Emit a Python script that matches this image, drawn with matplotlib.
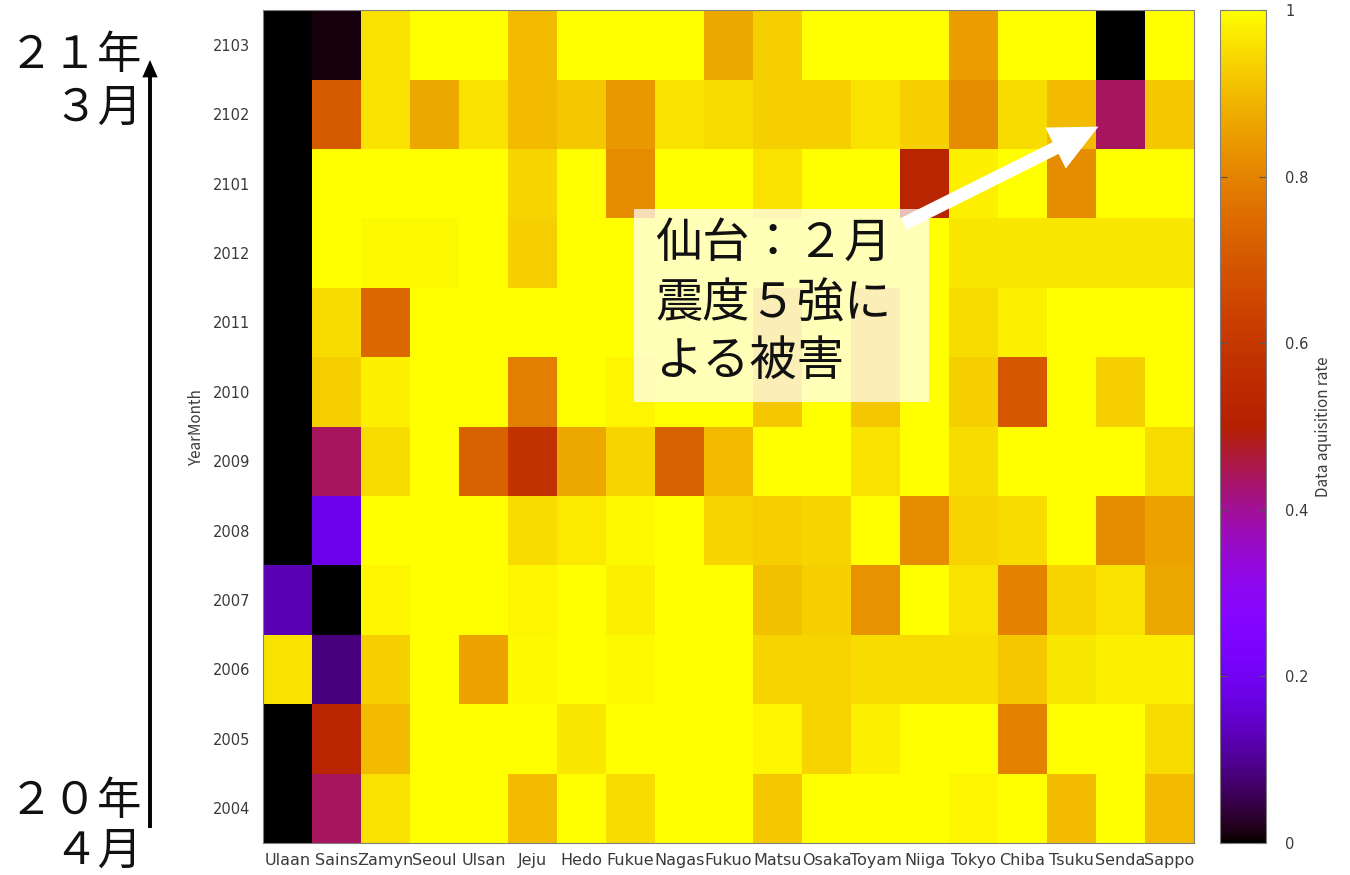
"""Monthly data acquisition rate per station, Apr 2020 - Mar 2021."""

import matplotlib
matplotlib.use("Agg")
import matplotlib.pyplot as plt
import numpy as np
from matplotlib.patches import FancyArrowPatch, Rectangle

# ── data ────────────────────────────────────────────────────────────────────
stations = ["Ulaan", "Sains", "Zamyn", "Seoul", "Ulsan", "Jeju", "Hedo",
            "Fukue", "Nagas", "Fukuo", "Matsu", "Osaka", "Toyam", "Niiga",
            "Tokyo", "Chiba", "Tsuku", "Senda", "Sappo"]
months = ["2004", "2005", "2006", "2007", "2008", "2009",
          "2010", "2011", "2012", "2101", "2102", "2103"]

# one row per month, station order as above
rate_2004 = [0.00, 0.44, 0.96, 1.00, 1.00, 0.90, 1.00, 0.95, 1.00, 1.00,
             0.92, 1.00, 1.00, 1.00, 0.985, 1.00, 0.90, 1.00, 0.90]
rate_2005 = [0.00, 0.53, 0.90, 1.00, 1.00, 1.00, 0.965, 1.00, 1.00, 1.00,
             0.985, 0.94, 0.98, 1.00, 1.00, 0.80, 1.00, 1.00, 0.95]
rate_2006 = [0.96, 0.085, 0.93, 1.00, 0.86, 0.99, 1.00, 0.99, 1.00, 1.00,
             0.94, 0.94, 0.95, 0.95, 0.95, 0.92, 0.965, 0.98, 0.98]
rate_2007 = [0.125, 0.00, 0.985, 1.00, 1.00, 0.985, 1.00, 0.98, 1.00, 1.00,
             0.91, 0.93, 0.83, 1.00, 0.96, 0.80, 0.94, 0.96, 0.87]
rate_2008 = [0.00, 0.19, 1.00, 1.00, 1.00, 0.95, 0.97, 0.99, 1.00, 0.94,
             0.93, 0.94, 1.00, 0.82, 0.94, 0.95, 1.00, 0.82, 0.86]
rate_2009 = [0.00, 0.44, 0.95, 1.00, 0.73, 0.58, 0.87, 0.94, 0.73, 0.90,
             1.00, 1.00, 0.96, 1.00, 0.95, 1.00, 1.00, 1.00, 0.95]
rate_2010 = [0.00, 0.93, 0.98, 1.00, 1.00, 0.79, 1.00, 0.985, 1.00, 1.00,
             0.92, 1.00, 0.92, 1.00, 0.93, 0.70, 1.00, 0.93, 1.00]
rate_2011 = [0.00, 0.95, 0.74, 1.00, 1.00, 1.00, 1.00, 1.00, 1.00, 1.00,
             0.92, 1.00, 0.92, 1.00, 0.95, 0.98, 1.00, 1.00, 1.00]
rate_2012 = [0.00, 1.00, 0.99, 0.99, 1.00, 0.93, 1.00, 1.00, 1.00, 1.00,
             1.00, 1.00, 1.00, 1.00, 0.965, 0.965, 0.965, 0.965, 0.965]
rate_2101 = [0.00, 1.00, 1.00, 1.00, 1.00, 0.94, 1.00, 0.82, 1.00, 1.00,
             0.96, 1.00, 1.00, 0.53, 0.98, 1.00, 0.82, 1.00, 1.00]
rate_2102 = [0.00, 0.71, 0.96, 0.87, 0.96, 0.90, 0.92, 0.84, 0.96, 0.95,
             0.93, 0.93, 0.96, 0.93, 0.82, 0.95, 0.90, 0.44, 0.92]
rate_2103 = [0.00, 0.01, 0.96, 1.00, 1.00, 0.90, 1.00, 1.00, 1.00, 0.87,
             0.93, 1.00, 1.00, 1.00, 0.85, 1.00, 1.00, 0.00, 1.00]

rates = np.array([rate_2004, rate_2005, rate_2006, rate_2007, rate_2008,
                  rate_2009, rate_2010, rate_2011, rate_2012, rate_2101,
                  rate_2102, rate_2103])

W, H = 1350, 875
JP = ["Noto Sans CJK JP", "DejaVu Sans"]
TICK = "#3a3a3a"


def px(x, y):
    """Figure pixel (from top-left) -> figure fraction."""
    return x / W, 1 - y / H


fig = plt.figure(figsize=(W / 100, H / 100), dpi=100)
ax = fig.add_axes([263 / W, 1 - 843 / H, 931 / W, 833 / H])
cax = fig.add_axes([1220 / W, 1 - 843 / H, 46 / W, 833 / H])

im = ax.imshow(rates, cmap="gnuplot", vmin=0, vmax=1, origin="lower",
               aspect="auto", interpolation="nearest")

ax.set_xticks(range(len(stations)))
ax.set_xticklabels(stations, family="DejaVu Sans", fontsize=11.5, color=TICK)
ax.set_yticks(range(len(months)))
ax.set_yticklabels(months, family="DejaVu Sans", fontsize=10.5, color=TICK)
ax.tick_params(length=0)
ax.tick_params(axis="x", pad=7)
ax.tick_params(axis="y", pad=9)
ax.set_ylabel("YearMonth", family=JP, fontsize=11, color=TICK, labelpad=6)
for s in ax.spines.values():
    s.set_color("#808080")
    s.set_linewidth(0.8)

cb = fig.colorbar(im, cax=cax)
cb.set_ticks([0, 0.2, 0.4, 0.6, 0.8, 1.0])
cb.set_ticklabels(["0", "0.2", "0.4", "0.6", "0.8", "1"])
cax.yaxis.set_ticks_position("both")
cax.tick_params(direction="in", length=5, width=0.8, color="#555555",
                labelleft=False, labelright=True, labelsize=10.5,
                labelcolor=TICK, pad=14)
for lab in cax.get_yticklabels():
    lab.set_family("DejaVu Sans")
cb.outline.set_edgecolor("#808080")
cb.outline.set_linewidth(0.8)
cb.set_label("Data aquisition rate", family=JP, fontsize=11, color=TICK,
             labelpad=4)

# annotation: Sendai, February earthquake
x0, y0 = px(634, 402)
x1, y1 = px(929, 209)
fig.add_artist(Rectangle((x0, y0), x1 - x0, y1 - y0, transform=fig.transFigure,
                         facecolor="white", alpha=0.72, edgecolor="none"))
for text, ycen in [("仙台：２月", 244), ("震度５強に", 304), ("よる被害", 362)]:
    fig.text(*px(655, ycen), text, family=JP, fontsize=34, ha="left",
             va="center", color="#111111")

ax.add_patch(FancyArrowPatch(
    (12.58, 8.42), (16.55, 9.82),
    arrowstyle="simple,head_length=3.45,head_width=3.3,tail_width=0.95",
    mutation_scale=10, facecolor="white", edgecolor="none",
    shrinkA=0, shrinkB=0, clip_on=False))

# time direction on the left
fig.add_artist(FancyArrowPatch(
    px(150, 828), px(150, 60), transform=fig.transFigure,
    arrowstyle="simple,head_length=1.25,head_width=1.1,tail_width=0.28",
    mutation_scale=10, facecolor="black", edgecolor="none",
    shrinkA=0, shrinkB=0))
for text, ycen in [("２１年", 55), ("３月", 108), ("２０年", 801), ("４月", 851)]:
    fig.text(*px(142, ycen), text, family=JP, fontsize=32, ha="right",
             va="center", color="#111111")

fig.savefig("out.png", dpi=100)
